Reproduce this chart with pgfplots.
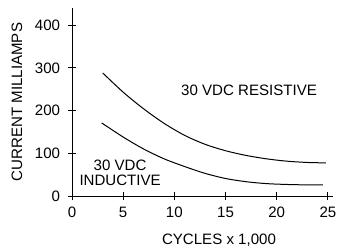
\documentclass[border=0pt]{standalone}
\usepackage{fontspec}
\setmainfont{Liberation Sans}
\usepackage{pgfplots}
\pgfplotsset{compat=1.18}
\newcommand{\fs}{\fontsize{11.3}{13}\selectfont}
\begin{document}
\fs
\begin{tikzpicture}
\useasboundingbox (-54pt,-41.25pt) rectangle (199.5pt,147pt);
\begin{axis}[
  at={(0,0)}, anchor=south west,
  scale only axis,
  width=195.75pt, height=141pt,
  xmin=0, xmax=25.5, ymin=0, ymax=440,
  axis lines=left,
  axis line style={-, line width=0.75pt},
  xtick={0,5,10,15,20,25},
  ytick={0,100,200,300,400},
  tick align=center,
  major tick length=6pt,
  tick style={line width=0.75pt, black},
  /pgf/number format/assume math mode=true,
  tick label style={font=\fs},
  xticklabel style={yshift=-1.5pt},
  yticklabel style={xshift=-2pt},
  xlabel={CYCLES x 1,000},
  ylabel={CURRENT MILLIAMPS},
  label style={font=\fs},
  xlabel style={at={(rel axis cs:0.5632,0)}, anchor=center, yshift=-33pt},
  ylabel style={at={(rel axis cs:0,0.5)}, anchor=center, yshift=41.25pt},
  clip=false,
]
\addplot[black, line width=0.75pt, smooth] coordinates {
(3,288) (5,243) (7,204) (9,170) (11,142) (13,121) (15,106) (17,95) (19,87) (21,81.5) (23,78.5) (24.8,77.5)
};
\addplot[black, line width=0.75pt, smooth] coordinates {
(2.9,171) (5,138) (7,110) (9,87) (11,69) (13,53) (15,41) (17,33.5) (19,29) (21,27) (23,26) (24.5,26)
};
\node[align=center, font=\fs] at (axis cs:17.3,248) {30 VDC RESISTIVE};
\node[align=center, font=\fontsize{11.3}{11.5}\selectfont] at (axis cs:4.7,54) {30 VDC\\INDUCTIVE};
\end{axis}
\end{tikzpicture}
\end{document}
